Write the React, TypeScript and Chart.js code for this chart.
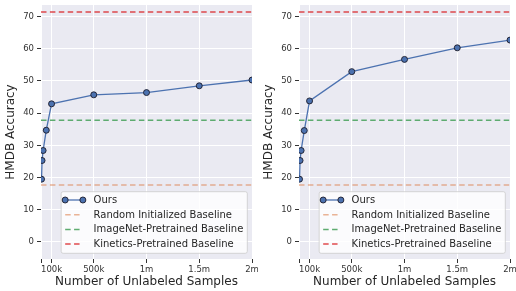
import React, { useEffect, useRef } from 'react';
import { Chart, registerables } from 'chart.js';

Chart.register(...registerables);

// ---- data ----
const samples = [5000, 10000, 20000, 50000, 100000, 500000, 1000000, 1500000, 2000000];
const oursLeft = [19.5, 25.3, 28.4, 34.7, 42.9, 45.7, 46.4, 48.5, 50.3];
const oursRight = [19.5, 25.3, 28.4, 34.6, 43.8, 52.9, 56.7, 60.3, 62.7];
const randomBaseline = 17.7;
const imagenetBaseline = 37.8;
const kineticsBaseline = 71.4;
const xTickValues = [0, 100000, 500000, 1000000, 1500000, 2000000];
const xTickLabels = ['', '100k', '500k', '1m', '1.5m', '2m'];
const yTickValues = [0, 10, 20, 30, 40, 50, 60, 70];
const seriesLabels = [
  'Ours',
  'Random Initialized Baseline',
  'ImageNet-Pretrained Baseline',
  'Kinetics-Pretrained Baseline',
];
const X_MIN = 0;
const X_MAX = 2000000;
const Y_MIN = -5.3;
const Y_MAX = 73.6;

const FONT = '"DejaVu Sans", "Liberation Sans", sans-serif';
const TEXT = '#262626';
const OURS = '#4c72b0';
const ORANGE = 'rgba(221,132,82,0.6)';
const GREEN = 'rgba(85,168,104,0.95)';
const RED = 'rgba(218,36,40,0.82)';
const DASH = [5.5, 3.4];

const bgPlugin = {
  id: 'plotBg',
  beforeDraw(chart: any) {
    const { ctx, chartArea, width, height } = chart;
    ctx.save();
    ctx.fillStyle = '#ffffff';
    ctx.fillRect(0, 0, width, height);
    ctx.fillStyle = '#EAEAF2';
    ctx.fillRect(chartArea.left, chartArea.top, chartArea.right - chartArea.left, chartArea.bottom - chartArea.top);
    ctx.restore();
  },
};

const legendPlugin = {
  id: 'boxLegend',
  afterDraw(chart: any) {
    const { ctx, chartArea } = chart;
    const ds = chart.data.datasets;
    ctx.save();
    ctx.font = `10px ${FONT}`;
    const textW = Math.max(...ds.map((d: any) => ctx.measureText(d.label).width));
    const pad = 4;
    const handleLen = 17.7;
    const gap = 10.7;
    const rowH = 14.7;
    const w = pad + handleLen + gap + textW + pad;
    const h = 61.6;
    const right = chartArea.right - 4.7;
    const bottom = chartArea.bottom - 5.7;
    const left = right - w;
    const top = bottom - h;
    const r = 2;
    ctx.beginPath();
    ctx.moveTo(left + r, top);
    ctx.lineTo(right - r, top);
    ctx.arcTo(right, top, right, top + r, r);
    ctx.lineTo(right, bottom - r);
    ctx.arcTo(right, bottom, right - r, bottom, r);
    ctx.lineTo(left + r, bottom);
    ctx.arcTo(left, bottom, left, bottom - r, r);
    ctx.lineTo(left, top + r);
    ctx.arcTo(left, top, left + r, top, r);
    ctx.closePath();
    ctx.fillStyle = 'rgba(255,255,255,0.8)';
    ctx.fill();
    ctx.strokeStyle = 'rgba(204,204,204,0.8)';
    ctx.lineWidth = 1;
    ctx.stroke();

    ds.forEach((d: any, i: number) => {
      const cy = top + 8.3 + i * rowH;
      const x0 = left + pad;
      const x1 = x0 + handleLen;
      ctx.beginPath();
      ctx.setLineDash(d.borderDash || []);
      ctx.strokeStyle = d.borderColor;
      ctx.lineWidth = d.borderWidth;
      ctx.moveTo(x0, cy);
      ctx.lineTo(x1, cy);
      ctx.stroke();
      ctx.setLineDash([]);
      if (d.pointRadius > 0) {
        [x0, x1].forEach((px) => {
          ctx.beginPath();
          ctx.arc(px, cy, d.pointRadius, 0, Math.PI * 2);
          ctx.fillStyle = d.pointBackgroundColor;
          ctx.fill();
          ctx.strokeStyle = d.pointBorderColor;
          ctx.lineWidth = d.pointBorderWidth;
          ctx.stroke();
        });
      }
      ctx.fillStyle = TEXT;
      ctx.textBaseline = 'middle';
      ctx.textAlign = 'left';
      ctx.fillText(d.label, x1 + gap, cy + 0.5);
    });
    ctx.restore();
  },
};

function baseline(label: string, value: number, color: string) {
  return {
    label,
    data: [
      { x: X_MIN, y: value },
      { x: X_MAX, y: value },
    ],
    borderColor: color,
    backgroundColor: color,
    borderWidth: 1.5,
    borderDash: DASH,
    pointRadius: 0,
    pointHoverRadius: 0,
    clip: 0,
  };
}

function Panel({ ours }: { ours: number[] }) {
  const ref = useRef<HTMLCanvasElement>(null);
  useEffect(() => {
    if (!ref.current) return;
    const chart = new Chart(ref.current, {
      type: 'line',
      data: {
        datasets: [
          {
            label: seriesLabels[0],
            data: samples.map((s, i) => ({ x: s, y: ours[i] })),
            borderColor: OURS,
            backgroundColor: OURS,
            borderWidth: 1.3,
            pointRadius: 3,
            pointBackgroundColor: OURS,
            pointBorderColor: '#1c1c2a',
            pointBorderWidth: 0.9,
            tension: 0,
            clip: 0,
          } as any,
          baseline(seriesLabels[1], randomBaseline, ORANGE),
          baseline(seriesLabels[2], imagenetBaseline, GREEN),
          baseline(seriesLabels[3], kineticsBaseline, RED),
        ],
      },
      options: {
        animation: false,
        responsive: false,
        devicePixelRatio: 1,
        layout: { padding: { top: 5, right: 6, left: 0, bottom: 0 } },
        plugins: { legend: { display: false }, tooltip: { enabled: false } },
        events: [],
        scales: {
          x: {
            type: 'linear',
            min: X_MIN,
            max: X_MAX,
            afterBuildTicks: (s: any) => {
              s.ticks = xTickValues.map((v) => ({ value: v }));
            },
            afterFit: (s: any) => {
              s.height = 32;
              s.paddingLeft = 0;
              s.paddingRight = 0;
            },
            ticks: {
              autoSkip: false,
              maxRotation: 0,
              minRotation: 0,
              padding: 2,
              color: '#333333',
              font: { family: FONT, size: 8.5 },
              callback: (_v: any, i: number) => xTickLabels[i],
            },
            grid: {
              color: '#ffffff',
              lineWidth: 1,
              drawTicks: true,
              tickLength: 4,
              tickColor: '#333333',
              tickWidth: 1,
            },
            border: { display: false },
            title: {
              display: true,
              text: 'Number of Unlabeled Samples',
              color: TEXT,
              font: { family: FONT, size: 12 },
              padding: { top: 0, bottom: 2 },
            },
          },
          y: {
            type: 'linear',
            min: Y_MIN,
            max: Y_MAX,
            afterBuildTicks: (s: any) => {
              s.ticks = yTickValues.map((v) => ({ value: v }));
            },
            afterFit: (s: any) => {
              s.width = 41;
              s.paddingTop = 0;
              s.paddingBottom = 0;
            },
            ticks: {
              padding: 3,
              color: '#333333',
              font: { family: FONT, size: 8.5 },
              callback: (v: any) => String(v),
            },
            grid: {
              color: '#ffffff',
              lineWidth: 1,
              drawTicks: true,
              tickLength: 4,
              tickColor: '#333333',
              tickWidth: 1,
            },
            border: { display: false },
            title: {
              display: true,
              text: 'HMDB Accuracy',
              color: TEXT,
              font: { family: FONT, size: 12 },
              padding: { top: 4, bottom: 0 },
            },
          },
        },
      } as any,
      plugins: [bgPlugin, legendPlugin],
    });
    return () => chart.destroy();
  }, [ours]);
  return <canvas ref={ref} width={258} height={291} style={{ display: 'block', width: 258, height: 291 }} />;
}

export default function App() {
  return (
    <div
      style={{
        position: 'fixed',
        left: 0,
        top: 0,
        width: 516,
        height: 291,
        display: 'flex',
        background: '#ffffff',
        overflow: 'hidden',
      }}
    >
      <Panel ours={oursLeft} />
      <Panel ours={oursRight} />
    </div>
  );
}
